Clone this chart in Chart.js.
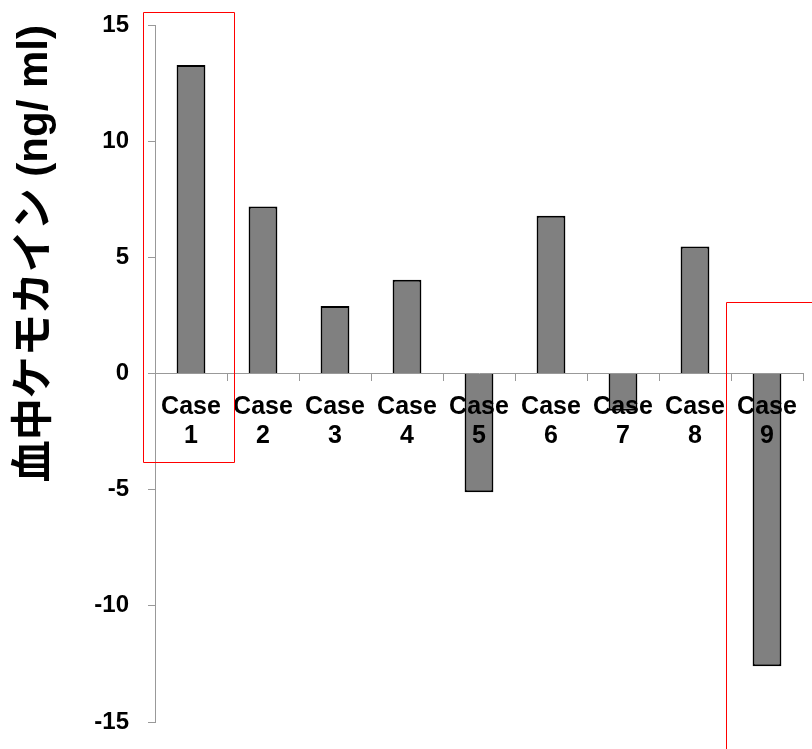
<!DOCTYPE html>
<html>
<head>
<meta charset="utf-8">
<script src="https://cdn.jsdelivr.net/npm/chart.js@4.4.1/dist/chart.umd.min.js"></script>
<style>
  html, body { margin: 0; padding: 0; background: #fff; }
  #wrap { width: 812px; height: 749px; }
</style>
</head>
<body>
<div id="wrap"><canvas id="myChart"></canvas></div>
<script>
// ma'lumotlar
const cases = [["Case", "1"], ["Case", "2"], ["Case", "3"], ["Case", "4"], ["Case", "5"], ["Case", "6"], ["Case", "7"], ["Case", "8"], ["Case", "9"]];
const values = [13.28, 7.19, 2.9, 4.04, -5.11, 6.79, -1.6, 5.47, -12.6];
const yTicks = [-15, -10, -5, 0, 5, 10, 15];
const yTitle = "血中ケモカイン (ng/ ml)";

// qizil ramkalar: [x boshi, x oxiri, y yuqori, y past] (kategoriya indeksi / qiymat)
const box1 = [-0.66, 0.6, 15.54, -3.81];
const box2 = [7.43, 9.2, 3.08, -16.6];

const fontFam = "'Liberation Sans', Arial, 'Noto Sans CJK JP', sans-serif";

// qizil ramka chizish uchun plagin
const redBoxes = {
  id: "redBoxes",
  afterDraw(chart) {
    const ctx = chart.ctx;
    const x = chart.scales.x;
    const y = chart.scales.y;
    ctx.save();
    ctx.strokeStyle = "#ff0000";
    ctx.lineWidth = 1;
    ctx.setLineDash([]);
    [box1, box2].forEach(b => {
      const l = Math.round(x.getPixelForValue(b[0])) + 0.5;
      const r = Math.round(x.getPixelForValue(b[1])) + 0.5;
      const t = Math.round(y.getPixelForValue(b[2])) + 0.5;
      const bt = Math.round(y.getPixelForValue(b[3])) + 0.5;
      ctx.beginPath();
      ctx.rect(l, t, r - l, bt - t);
      ctx.stroke();
    });
    ctx.restore();
  }
};

let myChart = document.getElementById("myChart").getContext("2d");

let chart = new Chart(myChart, {
  type: "bar",
  data: {
    labels: cases,
    datasets: [
      {
        data: values,
        backgroundColor: "#808080",
        borderColor: "#000000",
        borderWidth: 2,
        barPercentage: 0.4,
        categoryPercentage: 1.0,
      },
    ],
  },
  options: {
    responsive: true,
    maintainAspectRatio: false,
    animation: false,
    layout: {
      padding: { left: 0, top: 25, right: 9, bottom: 27 },
    },
    plugins: {
      legend: { display: false },
      tooltip: { enabled: false },
    },
    scales: {
      x: {
        position: { y: 0 },
        border: { color: "#999999", width: 1 },
        grid: {
          drawOnChartArea: false,
          drawTicks: true,
          tickLength: 7,
          tickColor: "#999999",
          offset: true,
        },
        ticks: {
          z: 1,
          color: "#000",
          font: { family: fontFam, size: 25, weight: "bold", lineHeight: 1.16 },
          padding: 12,
          maxRotation: 0,
          autoSkip: false,
        },
      },
      y: {
        min: -15,
        max: 15,
        afterFit(scale) {
          scale.width = 155;
          scale.paddingTop = 0;
          scale.paddingBottom = 0;
        },
        afterBuildTicks(scale) { scale.ticks = yTicks.map(v => ({ value: v })); },
        border: { color: "#999999", width: 1 },
        grid: {
          drawOnChartArea: false,
          tickLength: 7,
          tickColor: "#999999",
        },
        ticks: {
          color: "#000",
          font: { family: fontFam, size: 24, weight: "bold" },
          padding: 19,
        },
        title: {
          display: true,
          text: yTitle,
          align: "end",
          color: "#000",
          font: { family: fontFam, size: 42, weight: "bold", lineHeight: 1.2 },
          padding: { top: 10, bottom: 0 },
        },
      },
    },
  },
  plugins: [redBoxes],
});
</script>
</body>
</html>
